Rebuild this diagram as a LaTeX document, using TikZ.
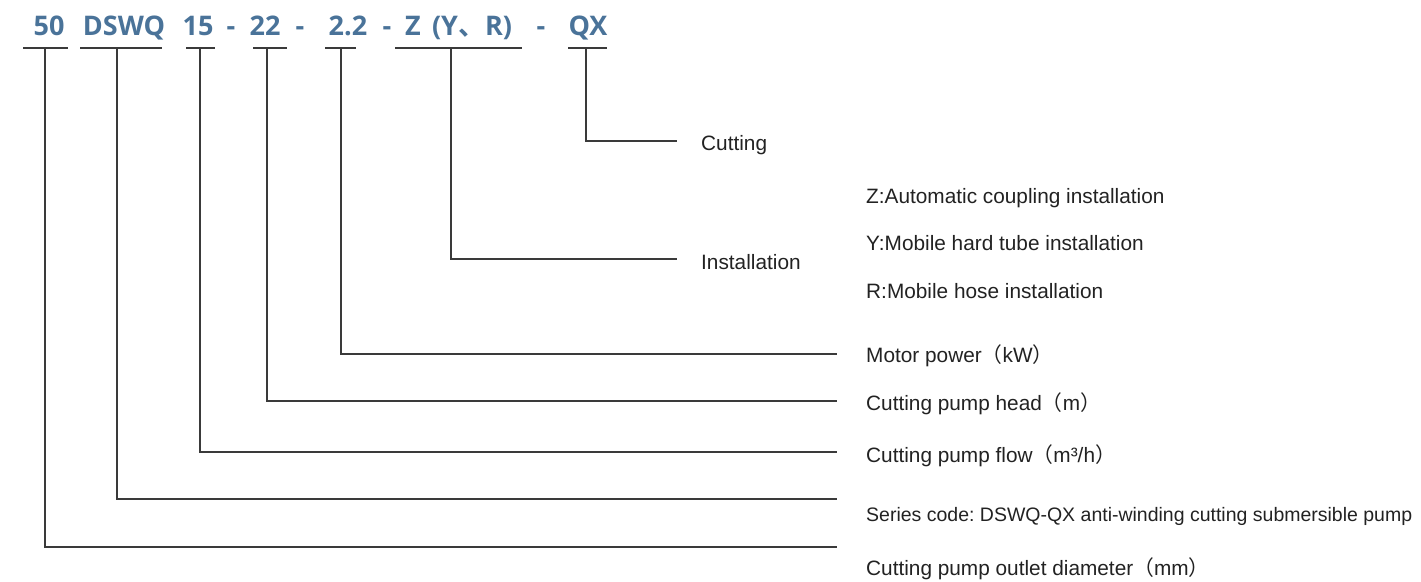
\documentclass[tikz,border=0pt]{standalone}
\usepackage{fontspec}
\setmainfont{Liberation Sans}
\newfontfamily\titlefont{Open Sans}[BoldFont={* Bold}]
\newfontfamily\cjkbold{Noto Sans CJK SC}[BoldFont={* Bold}]
\newfontfamily\cjk{Noto Sans CJK SC}
\definecolor{titleblue}{HTML}{4A7399}
\definecolor{linegray}{HTML}{3A3A3A}
\definecolor{txtgray}{HTML}{222222}
\newcommand{\fpl}{{\cjk （}}
\newcommand{\fpr}{{\cjk ）}}
\frenchspacing
\begin{document}
\begin{tikzpicture}[x=1pt,y=-1pt,
  titletext/.style={anchor=base, inner sep=0pt, text=titleblue,
    font=\titlefont\bfseries\fontsize{27}{31}\selectfont},
  labeltext/.style={anchor=base west, inner sep=0pt, text=txtgray,
    font=\fontsize{20.8}{25}\selectfont},
  leader/.style={draw=linegray, line width=1.4pt},
  underl/.style={draw=linegray, line width=1.4pt}]
\useasboundingbox (0,0) rectangle (1421,581);
% title pieces
\node[titletext] (t50)   at (49,35)  {50};
\node[titletext] (tds)   at (124,35) {DSWQ};
\node[titletext] (t15)   at (198,35) {15};
\node[titletext] (d1)    at (231,35) {-};
\node[titletext] (t22)   at (265,35) {22};
\node[titletext] (d2)    at (300,35) {-};
\node[titletext] (t22b)  at (348,35) {2.2};
\node[titletext] (d3)    at (387,35) {-};
\node[titletext] (tz)    at (413,35) {Z};
\node[titletext] (tyr)   at (472,35) {(Y{\cjkbold\bfseries 、}R)};
\node[titletext] (d4)    at (541,35) {-};
\node[titletext] (tqx)   at (588,35) {QX};
% underlines
\draw[underl] (23,48) -- (68,48);
\draw[underl] (80,48) -- (162,48);
\draw[underl] (186,48) -- (215,48);
\draw[underl] (253,48) -- (287,48);
\draw[underl] (325,48) -- (356,48);
\draw[underl] (395,48) -- (522,48);
\draw[underl] (568,48) -- (607,48);
% leader start points
\coordinate (s50) at (45,48);
\coordinate (sds) at (117,48);
\coordinate (s15) at (200,48);
\coordinate (s22) at (267,48);
\coordinate (s2)  at (341,48);
\coordinate (sz)  at (451,48);
\coordinate (sqx) at (586,48);
% leader end points
\coordinate (eqx) at (677,141);
\coordinate (ez)  at (677,259);
\coordinate (e2)  at (837,354);
\coordinate (e22) at (837,401);
\coordinate (e15) at (837,452);
\coordinate (eds) at (837,499);
\coordinate (e50) at (837,547);
% labels
\node[labeltext] (lqx) at (701,150) {Cutting};
\node[labeltext] (lz)  at (701,269) {Installation};
\node[labeltext] (lza) at (866,203) {Z:Automatic coupling installation};
\node[labeltext] (lzy) at (866,250) {Y:Mobile hard tube installation};
\node[labeltext] (lzr) at (866,298) {R:Mobile hose installation};
\node[labeltext] (l2)  at (866,362) {Motor power\fpl kW\fpr};
\node[labeltext] (l22) at (866,410) {Cutting pump head\fpl m\fpr};
\node[labeltext] (l15) at (866,462) {Cutting pump flow\fpl m³/h\fpr};
\node[labeltext] (lds) at (866,521) {\resizebox{546pt}{!}{Series code: DSWQ-QX anti-winding cutting submersible pump}};
\node[labeltext] (l50) at (866,575) {Cutting pump outlet diameter\fpl mm\fpr};
% leaders
\draw[leader] (sqx) |- (eqx);
\draw[leader] (sz)  |- (ez);
\draw[leader] (s2)  |- (e2);
\draw[leader] (s22) |- (e22);
\draw[leader] (s15) |- (e15);
\draw[leader] (sds) |- (eds);
\draw[leader] (s50) |- (e50);
\end{tikzpicture}
\end{document}
